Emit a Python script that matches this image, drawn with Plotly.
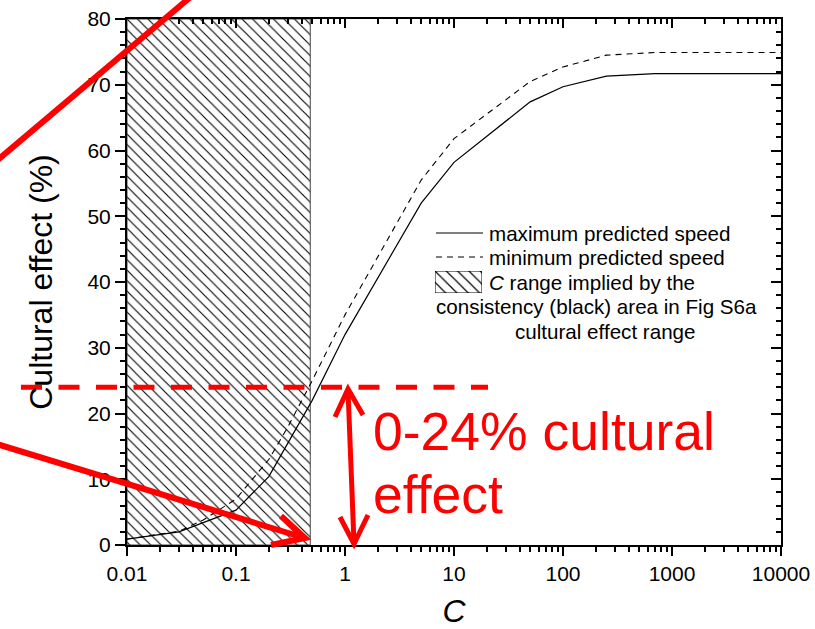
import plotly.graph_objects as go

# ---------------- data ----------------
C_values = [0.01, 0.03, 0.05, 0.1, 0.2, 0.3, 0.5, 1, 5, 10, 50, 100, 250, 700, 10000]
max_speed_effect = [0.9, 2.0, 3.4, 5.3, 10.4, 15.5, 22.0, 32.0, 52.0, 58.2, 67.4, 69.7, 71.3, 71.7, 71.7]
min_speed_effect = [0.9, 2.1, 3.8, 7.0, 13.0, 18.0, 25.0, 35.0, 55.5, 61.8, 70.5, 72.7, 74.5, 74.9, 74.9]
C_range = [0.01, 0.48]          # C range implied by consistency area
effect_range = [0, 80]          # vertical extent of hatched band
cultural_effect_max = 24        # upper bound of cultural effect (%)

x_tick_vals = [0.01, 0.1, 1, 10, 100, 1000, 10000]
x_tick_text = ["0.01", "0.1", "1", "10", "100", "1000", "10000"]
y_tick_vals = [0, 10, 20, 30, 40, 50, 60, 70, 80]
y_tick_text = ["0", "10", "20", "30", "40", "50", "60", "70", "80"]

FONT = "Arial, Liberation Sans, sans-serif"
W, H = 815, 629
L, R, T, B = 127, 34, 19, 84
PW, PH = W - L - R, H - T - B


def px(x):
    return (x - L) / PW


def py(y):
    return (H - B - y) / PH


minor_x = [m * 10 ** k for k in range(-2, 4) for m in range(2, 10)]

fig = go.Figure()

# hatched C range
fig.add_trace(go.Scatter(
    x=[C_range[0], C_range[1], C_range[1], C_range[0], C_range[0]],
    y=[effect_range[0], effect_range[0], effect_range[1], effect_range[1], effect_range[0]],
    fill="toself", mode="lines",
    line=dict(color="#444", width=1),
    fillcolor="rgba(255,255,255,0)",
    fillpattern=dict(shape="\\", size=7.4, solidity=0.15, fgcolor="black", fgopacity=1, bgcolor="white"),
    hoverinfo="skip", showlegend=False,
))

fig.add_trace(go.Scatter(x=C_values, y=min_speed_effect, mode="lines",
                         line=dict(color="black", width=1.1, dash="6px,5px"),
                         name="minimum predicted speed", showlegend=False))
fig.add_trace(go.Scatter(x=C_values, y=max_speed_effect, mode="lines",
                         line=dict(color="black", width=1.2),
                         name="maximum predicted speed", showlegend=False))

# invisible copy on mirrored axes so that their ticks are drawn
fig.add_trace(go.Scatter(x=C_values, y=max_speed_effect, xaxis="x2", yaxis="y2", mode="lines",
                         line=dict(color="rgba(0,0,0,0)", width=0), hoverinfo="skip", showlegend=False))

# legend hatch swatch (small subplot)
fig.add_trace(go.Scatter(
    x=[0, 1, 1, 0, 0], y=[0, 0, 1, 1, 0], xaxis="x3", yaxis="y3",
    fill="toself", mode="lines", line=dict(color="black", width=1),
    fillcolor="rgba(255,255,255,0)",
    fillpattern=dict(shape="\\", size=8, solidity=0.15, fgcolor="black", fgopacity=1, bgcolor="white"),
    hoverinfo="skip", showlegend=False,
))

tickfont = dict(family=FONT, size=21, color="black")

fig.update_layout(
    width=W, height=H,
    margin=dict(l=L, r=R, t=T, b=B, autoexpand=False),
    paper_bgcolor="white", plot_bgcolor="white",
    showlegend=False,
    font=dict(family=FONT, color="black"),
    xaxis=dict(
        type="log", range=[-2, 4], showgrid=False, zeroline=False, automargin=False,
        showline=True, linecolor="black", linewidth=2,
        ticks="outside", ticklen=9, tickwidth=2, tickcolor="black",
        tickvals=x_tick_vals, ticktext=x_tick_text, tickfont=tickfont,
        minor=dict(ticks="outside", ticklen=5, tickwidth=1.5, tickcolor="black", tickvals=minor_x, showgrid=False),
        title=dict(text="<i>C</i>", font=dict(family=FONT, size=32), standoff=18),
    ),
    yaxis=dict(
        range=[0, 80], showgrid=False, zeroline=False, automargin=False,
        showline=True, linecolor="black", linewidth=2,
        ticks="outside", ticklen=10, tickwidth=2, tickcolor="black",
        tickvals=y_tick_vals, ticktext=y_tick_text, tickfont=tickfont,
        minor=dict(ticks="outside", ticklen=5, tickwidth=1.5, tickcolor="black", dtick=2, showgrid=False),
        title=dict(text="Cultural effect (%)", font=dict(family=FONT, size=32), standoff=25),
    ),
    xaxis2=dict(
        type="log", range=[-2, 4], overlaying="x", side="top", anchor="y2", automargin=False,
        showgrid=False, zeroline=False, showline=True, linecolor="black", linewidth=2,
        ticks="inside", ticklen=9, tickwidth=2, tickcolor="black",
        tickvals=x_tick_vals, showticklabels=False,
        minor=dict(ticks="inside", ticklen=5, tickwidth=1.5, tickcolor="black", tickvals=minor_x, showgrid=False),
    ),
    yaxis2=dict(
        range=[0, 80], overlaying="y", side="right", anchor="x2", automargin=False,
        showgrid=False, zeroline=False, showline=True, linecolor="black", linewidth=2,
        ticks="inside", ticklen=10, tickwidth=2, tickcolor="black",
        tickvals=y_tick_vals, showticklabels=False,
        minor=dict(ticks="inside", ticklen=5, tickwidth=1.5, tickcolor="black", dtick=2, showgrid=False),
    ),
    xaxis3=dict(domain=[px(435), px(482)], range=[0, 1], anchor="y3", visible=False, fixedrange=True, automargin=False),
    yaxis3=dict(domain=[py(293), py(271)], range=[0, 1], anchor="x3", visible=False, fixedrange=True, automargin=False),
)

# ---------------- legend (custom) ----------------
fig.add_shape(type="line", xref="paper", yref="paper", x0=px(436), x1=px(483), y0=py(233), y1=py(233),
              line=dict(color="black", width=1.2))
fig.add_shape(type="line", xref="paper", yref="paper", x0=px(436), x1=px(483), y0=py(257), y1=py(257),
              line=dict(color="black", width=1.2, dash="6px,5px"))
legend_rows = [
    ("maximum predicted speed", 487, 233),
    ("minimum predicted speed", 487, 257),
    ("<i>C</i> range implied by the", 487, 282),
    ("consistency (black) area in Fig S6a", 434, 306),
    ("cultural effect range", 513, 331),
]
for txt, x, y in legend_rows:
    fig.add_annotation(text=txt, xref="paper", yref="paper", x=px(x), y=py(y),
                       xanchor="left", yanchor="middle", showarrow=False,
                       font=dict(family=FONT, size=20.6, color="black"))

# ---------------- red annotations ----------------
RED = "#ff0000"
# long diagonal line top-left
fig.add_shape(type="line", xref="paper", yref="paper",
              x0=px(-20), y0=py(158 + 20 * 0.845), x1=px(200), y1=py(158 - 200 * 0.845),
              line=dict(color=RED, width=6))
# arrow to bottom of hatched range
fig.add_shape(type="line", xref="paper", yref="paper",
              x0=px(-20), y0=py(445 - 20 * 0.305), x1=px(303), y1=py(537.5),
              line=dict(color=RED, width=6))
fig.add_shape(type="path", xref="paper", yref="paper",
              path=f"M {px(281)},{py(516)} L {px(305)},{py(538)} L {px(271)},{py(545)}",
              line=dict(color=RED, width=6))
# dashed horizontal line at cultural effect max
fig.add_shape(type="line", xref="paper", yref="paper",
              x0=px(21), x1=px(488),
              y0=py(545 - cultural_effect_max * PH / 80), y1=py(545 - cultural_effect_max * PH / 80),
              line=dict(color=RED, width=5, dash="21px,16.5px"))
# double arrow
fig.add_shape(type="line", xref="paper", yref="paper",
              x0=px(348), y0=py(390), x1=px(354), y1=py(543),
              line=dict(color=RED, width=5))
fig.add_shape(type="path", xref="paper", yref="paper",
              path=f"M {px(335)},{py(417)} L {px(348)},{py(389)} L {px(363)},{py(415)}",
              line=dict(color=RED, width=5))
fig.add_shape(type="path", xref="paper", yref="paper",
              path=f"M {px(340)},{py(517)} L {px(354)},{py(544)} L {px(368)},{py(515)}",
              line=dict(color=RED, width=5))
# red text
fig.add_annotation(text="0-24% cultural", xref="paper", yref="paper", x=px(371), y=py(431),
                   xanchor="left", yanchor="middle", showarrow=False,
                   font=dict(family=FONT, size=53.5, color=RED))
fig.add_annotation(text="effect", xref="paper", yref="paper", x=px(371), y=py(494),
                   xanchor="left", yanchor="middle", showarrow=False,
                   font=dict(family=FONT, size=53.5, color=RED))

fig.write_html("out.html")
